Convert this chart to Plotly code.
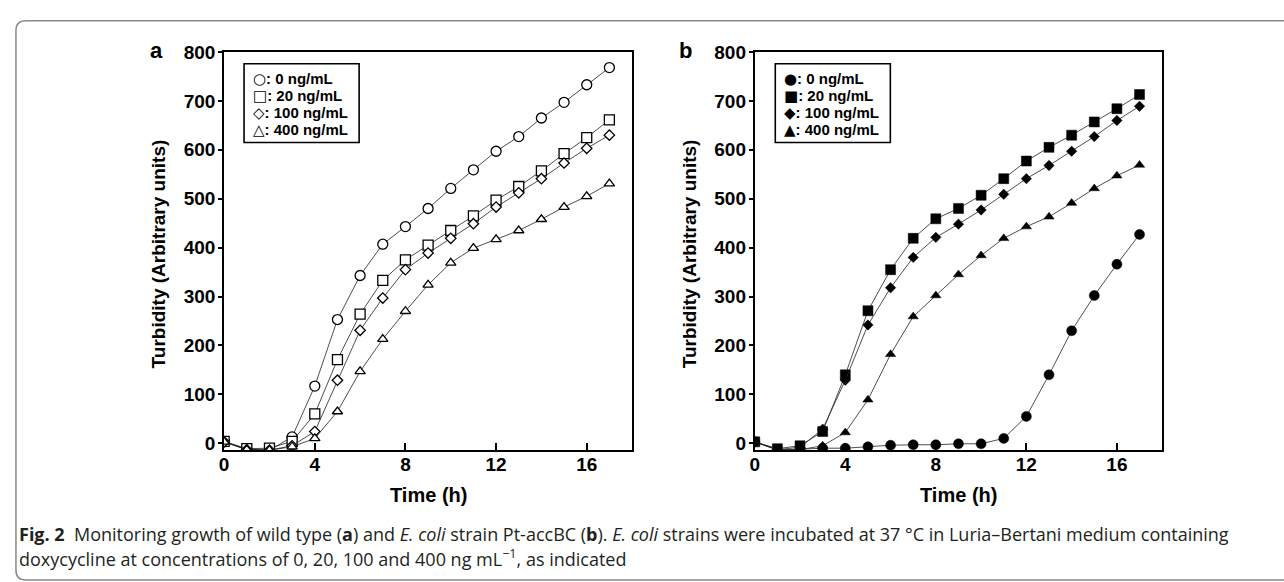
import plotly.graph_objects as go

W, H = 1284, 582

hours = list(range(18))
conc_labels = ["0 ng/mL", "20 ng/mL", "100 ng/mL", "400 ng/mL"]

# Panel a: wild type (open symbols)
a_0 = [3, -12, -14, 13, 117, 253, 343, 407, 443, 480, 521, 559, 597, 627, 665, 697, 733, 768]
a_20 = [4, -11, -10, 4, 60, 171, 264, 333, 375, 405, 435, 465, 497, 525, 557, 592, 625, 661]
a_100 = [3, -13, -14, -5, 24, 129, 231, 297, 355, 389, 419, 449, 483, 512, 541, 573, 603, 630]
a_400 = [3, -13, -14, -7, 10, 65, 147, 213, 270, 324, 369, 399, 417, 435, 458, 483, 505, 531]

# Panel b: E. coli Pt-accBC (filled symbols)
b_0 = [3, -14, -12, -10, -10, -7, -4, -3, -3, -1, -1, 10, 55, 140, 230, 302, 366, 427]
b_20 = [3, -11, -5, 24, 140, 271, 355, 419, 459, 480, 507, 541, 577, 605, 630, 657, 684, 713]
b_100 = [3, -13, -8, 29, 129, 242, 318, 380, 421, 448, 477, 509, 541, 568, 597, 627, 660, 689]
b_400 = [3, -13, -13, -5, 22, 89, 182, 259, 302, 345, 384, 419, 443, 463, 491, 521, 547, 569]

x_ticks = [0, 4, 8, 12, 16]
y_ticks = [0, 100, 200, 300, 400, 500, 600, 700, 800]

fill_syms = ["circle", "square", "diamond", "triangle-up"]
open_chars = ["○", "□", "◇", "△"]
fill_chars = ["●", "■", "◆", "▲"]
sizes = [10, 10, 8, 9]

def px_x(p):
    return p / W

def px_y(p):
    return 1 - p / H

fig = go.Figure()

series_a = [a_0, a_20, a_100, a_400]
series_b = [b_0, b_20, b_100, b_400]

for i, ys in enumerate(series_a):
    fig.add_trace(go.Scatter(
        x=hours, y=ys, mode="lines+markers", xaxis="x", yaxis="y",
        line=dict(color="#222", width=0.8),
        marker=dict(symbol=fill_syms[i], size=sizes[i], color="white",
                    line=dict(color="black", width=1.3)),
        showlegend=False, name=conc_labels[i]))

for i, ys in enumerate(series_b):
    fig.add_trace(go.Scatter(
        x=hours, y=ys, mode="lines+markers", xaxis="x2", yaxis="y2",
        line=dict(color="#222", width=0.8),
        marker=dict(symbol=fill_syms[i], size=sizes[i], color="black",
                    line=dict(color="black", width=0.5)),
        showlegend=False, name=conc_labels[i]))

bold = "Liberation Sans, Arial, sans-serif"
tickfont = dict(family=bold, size=19, color="black", weight="bold")

xa_dom = [px_x(220), px_x(629.5)]
xb_dom = [px_x(752.7), px_x(1161.7)]
y_dom = [px_y(451), px_y(43)]

common_x = dict(range=[0, 18], tickvals=x_ticks, ticks="inside", ticklen=7, tickwidth=2,
                tickcolor="black", showline=True, linewidth=2, linecolor="black", mirror=True,
                showgrid=False, zeroline=False, tickfont=tickfont, ticklabelstandoff=-4)
common_y = dict(range=[-14, 800], tickvals=y_ticks, ticks="outside", ticklen=4, tickwidth=2,
                tickcolor="black", showline=True, linewidth=2, linecolor="black", mirror=True,
                showgrid=False, zeroline=False, tickfont=tickfont, ticklabelstandoff=-1)

fig.update_layout(
    width=W, height=H,
    margin=dict(l=0, r=0, t=0, b=0),
    paper_bgcolor="white", plot_bgcolor="white",
    xaxis=dict(domain=xa_dom, anchor="y", **common_x),
    yaxis=dict(domain=y_dom, anchor="x", **common_y),
    xaxis2=dict(domain=xb_dom, anchor="y2", **common_x),
    yaxis2=dict(domain=y_dom, anchor="x2", **common_y),
)

annots = []
# panel letters
for lbl, xp in [("a", 152), ("b", 683)]:
    annots.append(dict(x=px_x(xp), y=px_y(42), xref="paper", yref="paper", text=f"<b>{lbl}</b>",
                       showarrow=False, font=dict(family=bold, size=22, color="black"),
                       xanchor="center", yanchor="middle"))
# axis titles
for xc in [155, 688]:
    annots.append(dict(x=px_x(xc), y=px_y(250), xref="paper", yref="paper",
                       text="<b>Turbidity (Arbitrary units)</b>", textangle=-90, showarrow=False,
                       font=dict(family=bold, size=19, color="black"),
                       xanchor="center", yanchor="middle"))
for xc in [(220 + 629.5) / 2, (752.7 + 1161.7) / 2]:
    annots.append(dict(x=px_x(xc), y=px_y(497), xref="paper", yref="paper",
                       text="<b>Time (h)</b>", showarrow=False,
                       font=dict(family=bold, size=20, color="black"),
                       xanchor="center", yanchor="middle"))

# legends
shapes = []
row_y = [71, 88.3, 105.6, 123]
sym_style = "font-family:DejaVu Sans;font-size:15px;font-weight:normal"
for x0, chars in [(240, open_chars), (773.3, fill_chars)]:
    shapes.append(dict(type="rect", xref="paper", yref="paper",
                       x0=px_x(x0), x1=px_x(x0 + 115.5), y0=px_y(135.7), y1=px_y(55),
                       line=dict(color="black", width=1.6), fillcolor="white", layer="above"))
    for ch, lab, yy in zip(chars, conc_labels, row_y):
        annots.append(dict(x=px_x(x0 + 7), y=px_y(yy), xref="paper", yref="paper",
                           text=f"<span style='{sym_style}'>{ch}</span><b>: {lab}</b>", showarrow=False,
                           font=dict(family=bold, size=15, color="black"),
                           xanchor="left", yanchor="middle"))

# caption
cap_font = dict(family="Open Sans, Noto Sans, sans-serif", size=18, color="#231f20")
line1 = ("<b>Fig. 2</b>  Monitoring growth of wild type (<b>a</b>) and <i>E. coli</i> strain Pt-accBC (<b>b</b>). "
         "<i>E. coli</i> strains were incubated at 37 °C in Luria–Bertani medium containing")
line2 = "doxycycline at concentrations of 0, 20, 100 and 400 ng mL<sup>−1</sup>, as indicated"
annots.append(dict(x=px_x(12), y=px_y(537), xref="paper", yref="paper", text=line1, showarrow=False,
                   font=cap_font, xanchor="left", yanchor="middle"))
annots.append(dict(x=px_x(12), y=px_y(561), xref="paper", yref="paper", text=line2, showarrow=False,
                   font=cap_font, xanchor="left", yanchor="middle"))

# rounded frame
x0, yt, yb, r = 11, 11, 584, 10
xr = W + 20
path = (f"M {px_x(xr)},{px_y(yt)} L {px_x(x0 + r)},{px_y(yt)} "
        f"Q {px_x(x0)},{px_y(yt)} {px_x(x0)},{px_y(yt + r)} "
        f"L {px_x(x0)},{px_y(yb - r)} Q {px_x(x0)},{px_y(yb)} {px_x(x0 + r)},{px_y(yb)} "
        f"L {px_x(xr)},{px_y(yb)}")
shapes.append(dict(type="path", xref="paper", yref="paper", path=path,
                   line=dict(color="#8a8a8a", width=1.5)))

fig.update_layout(annotations=annots, shapes=shapes)

fig.write_html("out.html")
